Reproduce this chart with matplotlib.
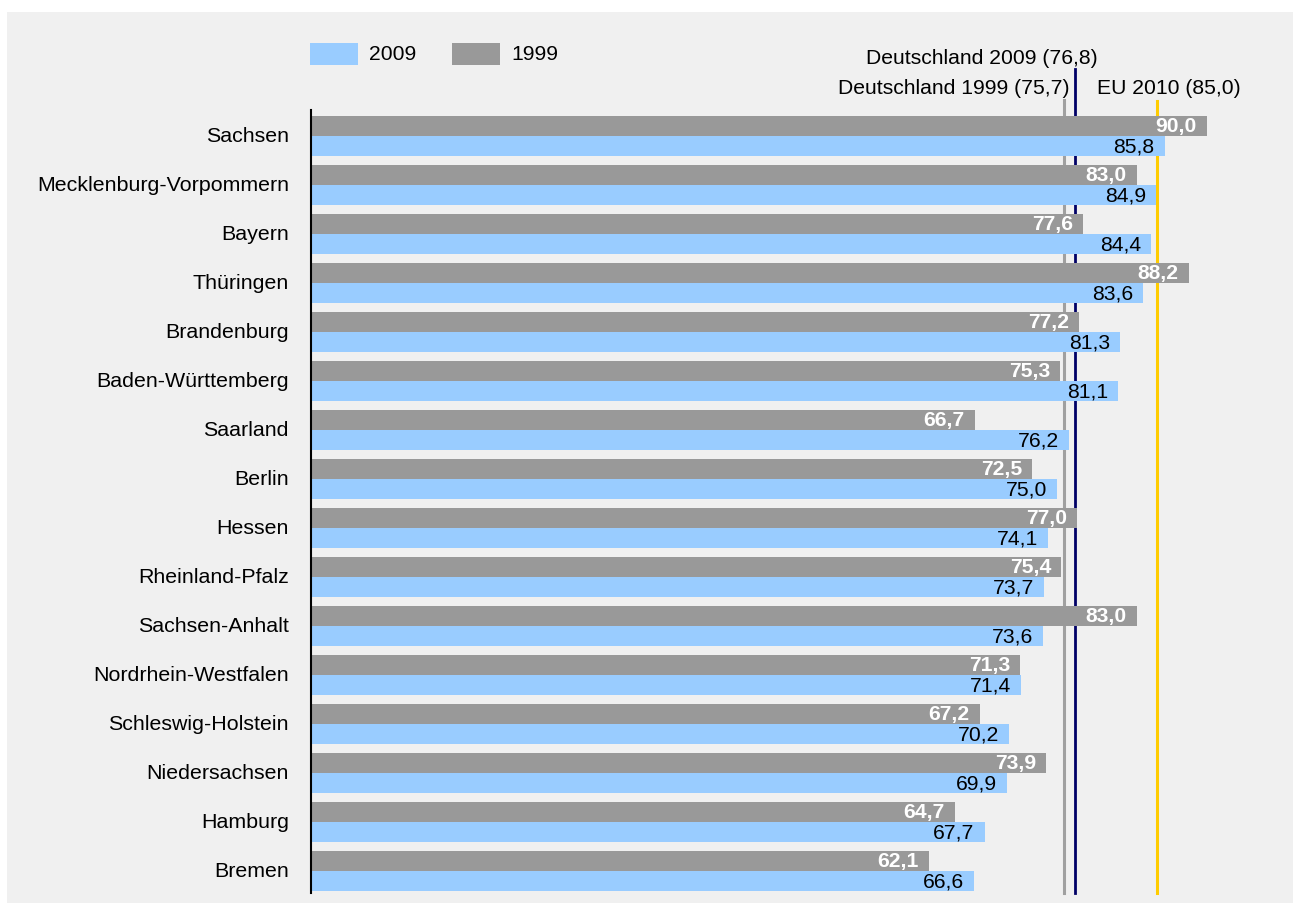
import matplotlib
matplotlib.use("Agg")
import matplotlib.pyplot as plt
from matplotlib.patches import Rectangle
from matplotlib.transforms import ScaledTranslation
import numpy as np

plt.rcParams['font.family'] = ['Liberation Sans', 'DejaVu Sans']

categories = ["Sachsen", "Mecklenburg-Vorpommern", "Bayern", "Thüringen", "Brandenburg",
              "Baden-Württemberg", "Saarland", "Berlin", "Hessen", "Rheinland-Pfalz",
              "Sachsen-Anhalt", "Nordrhein-Westfalen", "Schleswig-Holstein",
              "Niedersachsen", "Hamburg", "Bremen"]
values_2009 = [85.8, 84.9, 84.4, 83.6, 81.3, 81.1, 76.2, 75.0, 74.1, 73.7, 73.6,
               71.4, 70.2, 69.9, 67.7, 66.6]
values_1999 = [90.0, 83.0, 77.6, 88.2, 77.2, 75.3, 66.7, 72.5, 77.0, 75.4, 83.0,
               71.3, 67.2, 73.9, 64.7, 62.1]
de_1999 = 75.7
de_2009 = 76.8
eu_2010 = 85.0
ref_labels = ["Deutschland 1999 (75,7)", "Deutschland 2009 (76,8)", "EU 2010 (85,0)"]
series_labels = ["2009", "1999"]

def fmt(v):
    return f"{v:.1f}".replace(".", ",")

W, H = 1293, 905
fig = plt.figure(figsize=(W / 100, H / 100), dpi=100)
fig.patch.set_facecolor("white")
bg = Rectangle((7 / W, (H - 903) / H), (W - 7) / W, (903 - 12) / H,
               transform=fig.transFigure, facecolor="#f0f0f0", edgecolor="none", zorder=-10)
fig.patches.append(bg)

ax_left, ax_top, ax_bottom = 311, 110, 893
scale = 9.95
ax_w = 975
ax = fig.add_axes([ax_left / W, (H - ax_bottom) / H, ax_w / W, (ax_bottom - ax_top) / H])
ax.set_facecolor("none")
ax.set_zorder(1)

n = len(categories)
y = np.arange(n)
bh = 20 / 49
blue = "#99ccff"
gray = "#999999"
ax.barh(y - bh / 2, values_1999, height=bh, color=gray, zorder=2)
ax.barh(y + bh / 2, values_2009, height=bh, color=blue, zorder=2)

ax.set_xlim(0, ax_w / scale)
ax.set_ylim((ax_bottom - 136) / 49, -(136 - ax_top) / 49)

fs = 15.2
pad = 10 / scale
for i in range(n):
    ax.text(values_1999[i] - pad, y[i] - bh / 2, fmt(values_1999[i]), ha="right",
            va="center", color="white", fontweight="bold", fontsize=fs, zorder=4)
    ax.text(values_2009[i] - pad, y[i] + bh / 2 + 0.02, fmt(values_2009[i]), ha="right",
            va="center", color="black", fontsize=fs, zorder=4)

axh = ax_bottom - ax_top
ax.axvline(de_1999, ymin=0, ymax=(ax_bottom - 100) / axh, color="#a0a0a0", lw=2.2,
           clip_on=False, zorder=1)
ax.axvline(de_2009, ymin=0, ymax=(ax_bottom - 69) / axh, color="#000066", lw=2.0,
           clip_on=False, zorder=1)
ax.axvline(eu_2010, ymin=0, ymax=(ax_bottom - 101) / axh, color="#ffcc00", lw=2.2,
           clip_on=False, zorder=1)

fig.text(1070 / W, 1 - 89 / H, ref_labels[0], ha="right", va="center", fontsize=fs)
fig.text(1098 / W, 1 - 58 / H, ref_labels[1], ha="right", va="center", fontsize=fs)
fig.text(1097 / W, 1 - 89 / H, ref_labels[2], ha="left", va="center", fontsize=fs)

ax.set_yticks(y)
ax.set_yticklabels(categories, fontsize=15.4)
ax.tick_params(axis="y", length=0, pad=16)
shift = ScaledTranslation(0, 2 / 100, fig.dpi_scale_trans)
for lbl in ax.get_yticklabels():
    lbl.set_transform(lbl.get_transform() + shift)
ax.set_xticks([])
for s in ["top", "right", "bottom"]:
    ax.spines[s].set_visible(False)
ax.spines["left"].set_color("black")
ax.spines["left"].set_linewidth(1.5)
ax.spines["left"].set_zorder(5)

# legend
fig.patches.append(Rectangle((310 / W, 1 - 65 / H), 48 / W, 22 / H,
                             transform=fig.transFigure, facecolor=blue, edgecolor="none"))
fig.text(369 / W, 1 - 54 / H, series_labels[0], ha="left", va="center", fontsize=fs)
fig.patches.append(Rectangle((452 / W, 1 - 65 / H), 48 / W, 22 / H,
                             transform=fig.transFigure, facecolor=gray, edgecolor="none"))
fig.text(511 / W, 1 - 54 / H, series_labels[1], ha="left", va="center", fontsize=fs)

fig.savefig("out.png", dpi=100)
